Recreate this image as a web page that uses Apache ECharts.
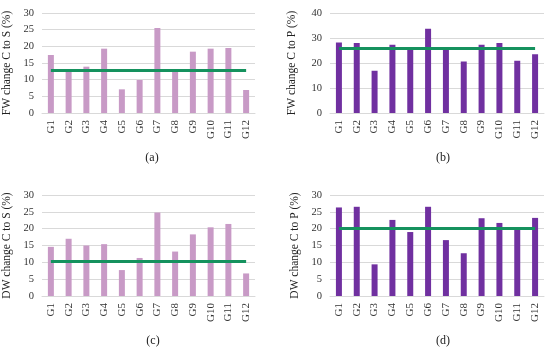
<!DOCTYPE html>
<html>
<head>
<meta charset="utf-8">
<script src="https://cdn.jsdelivr.net/npm/echarts@6/dist/echarts.min.js"></script>
<style>html,body{margin:0;padding:0;background:#fff;}#c{width:550px;height:347px;}</style>
</head>
<body>
<div id="c"></div>
<script>
const categories = ['G1','G2','G3','G4','G5','G6','G7','G8','G9','G10','G11','G12'];
const fwCtoS = [17.4, 13.1, 13.9, 19.3, 7.1, 9.9, 25.5, 12.6, 18.4, 19.3, 19.5, 6.9];
const fwCtoP = [28.2, 28.0, 16.9, 27.3, 25.3, 33.7, 25.7, 20.6, 27.3, 28.0, 20.9, 23.5];
const dwCtoS = [14.6, 17.0, 15.0, 15.4, 7.7, 11.3, 24.8, 13.2, 18.3, 20.4, 21.4, 6.7];
const dwCtoP = [26.3, 26.5, 9.4, 22.6, 19.0, 26.5, 16.6, 12.7, 23.1, 21.7, 19.8, 23.2];
const means = [12.7, 25.8, 10.2, 20.1];
const yNames = ['FW change C to S (%)', 'FW change C to P (%)', 'DW change C to S (%)', 'DW change C to P (%)'];
const yMax = [30, 40, 30, 30];
const yInterval = [5, 10, 5, 5];
const panelLabels = ['(a)', '(b)', '(c)', '(d)'];

const seriesData = [fwCtoS, fwCtoP, dwCtoS, dwCtoP];
const barColors = ['#c89ac6', '#7030a0', '#c89ac6', '#7030a0'];
const font = 'Liberation Serif';
const grids = [
  {left: 41, width: 214, top: 13, height: 100},
  {left: 330, width: 214, top: 13, height: 100},
  {left: 41, width: 214, top: 195, height: 101},
  {left: 330, width: 214, top: 195, height: 101}
];
const nameGaps = [29, 32, 29, 29];
const titlePos = [[147, 147], [438, 147], [148, 330], [438, 330]];

const option = {
  backgroundColor: '#fff',
  animation: false,
  textStyle: {fontFamily: font},
  grid: grids,
  title: panelLabels.map((t, i) => ({
    text: t, left: titlePos[i][0], top: titlePos[i][1], textAlign: 'center',
    textStyle: {fontFamily: font, fontSize: 12, fontWeight: 'normal', color: '#222'}
  })),
  xAxis: grids.map((g, i) => ({
    type: 'category', gridIndex: i, data: categories,
    axisLine: {lineStyle: {color: '#d9d9d9'}},
    axisTick: {show: false},
    axisLabel: {rotate: 90, fontFamily: font, fontSize: 11, color: '#333', margin: 7}
  })),
  yAxis: grids.map((g, i) => ({
    type: 'value', gridIndex: i, min: 0, max: yMax[i], interval: yInterval[i],
    name: yNames[i], nameLocation: 'middle', nameGap: nameGaps[i],
    nameTextStyle: {fontFamily: font, fontSize: 11.5, color: '#222'},
    axisLine: {show: false}, axisTick: {show: false},
    axisLabel: {fontFamily: font, fontSize: 10.5, color: '#333', margin: 8},
    splitLine: {lineStyle: {color: '#d9d9d9'}}
  })),
  series: seriesData.map((d, i) => ({
    type: 'bar', xAxisIndex: i, yAxisIndex: i, data: d, barWidth: 6,
    itemStyle: {color: barColors[i]},
    markLine: {
      silent: true, symbol: 'none', label: {show: false},
      lineStyle: {color: '#15925e', width: 3, type: 'solid'},
      data: [[{coord: [categories[0], means[i]]}, {coord: [categories[categories.length - 1], means[i]]}]]
    }
  }))
};
echarts.init(document.getElementById('c')).setOption(option);
</script>
</body>
</html>
